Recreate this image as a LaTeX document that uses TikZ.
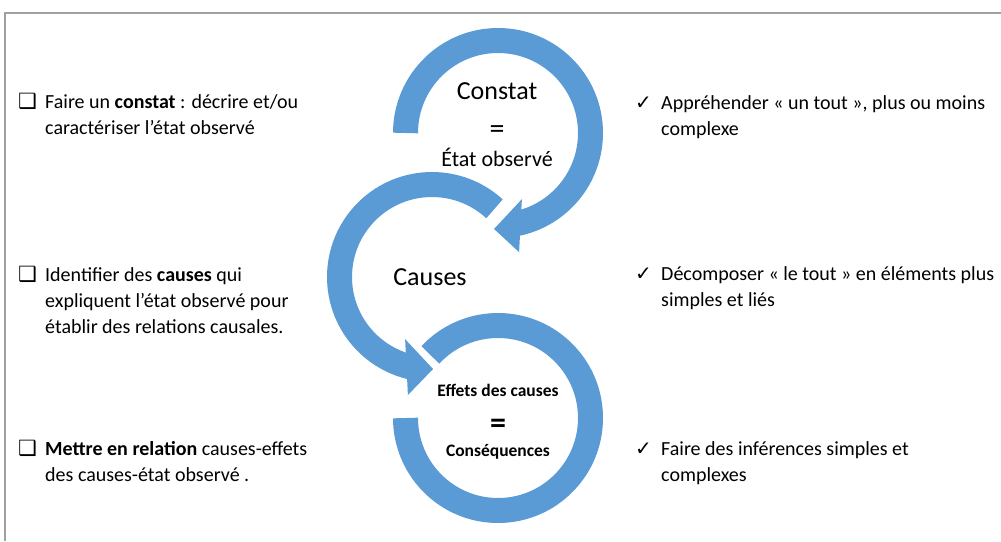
\documentclass[tikz,border=0pt]{standalone}
\usepackage{fontspec}
\setmainfont{Carlito}
\newfontfamily\symbfont{DejaVu Sans}
\usetikzlibrary{calc}
\definecolor{arcblue}{HTML}{5B9BD5}
\definecolor{framegray}{HTML}{A0A0A0}

\begin{document}
\begin{tikzpicture}[x=1pt,y=-1pt,
    band/.style={arcblue,line width=25pt},
    tip/.style={fill=arcblue},
    tipedge/.style={white,line width=2.5pt,line join=miter},
    item/.style={anchor=base west,inner sep=0pt,font=\fontsize{20}{26}\selectfont},
    bullet/.style={anchor=base west,inner sep=0pt}]
  \useasboundingbox (0,0) rectangle (1001,541);
  \draw[framegray,line width=2pt] (5,541)--(5,13)--(1001,13);

  % cercles
  \coordinate (c1) at (498,133);
  \coordinate (c2) at (432,277);
  \coordinate (c3) at (498,418);
  \draw[band] ($(c3)+(-137:92.5)$) arc[start angle=-137,end angle=180,radius=92.5];
  \draw[band] ($(c2)+(-47.5:92.5)$) arc[start angle=-47.5,end angle=-257,radius=92.5];
  \fill[tip] (405,337)--(435,369)--(408,397)--cycle;
  \draw[tipedge] (405,337)--(435,369)--(408,397);
  \draw[band] ($(c1)+(180:92.5)$) arc[start angle=180,end angle=439,radius=92.5];
  \fill[tip] (522,197)--(492,229)--(519,254)--cycle;
  \draw[tipedge] (522,197)--(492,229)--(519,254);

  \node[anchor=base,font=\fontsize{26}{30}\selectfont] (constat) at (497,99.5) {Constat};
  \node[font=\fontsize{30}{34}\selectfont] (egal1) at (497,132) {=};
  \node[anchor=base,font=\fontsize{22}{26}\selectfont] (etat) at (497,166.5) {État observé};
  \node[anchor=base,font=\fontsize{26}{30}\selectfont] (causes) at (430,285) {Causes};
  \node[anchor=base,font=\bfseries\fontsize{17.5}{20}\selectfont] (effets) at (498,396) {Effets des causes};
  \node[font=\bfseries\fontsize{32}{36}\selectfont] (egal2) at (498,426) {=};
  \node[anchor=base,font=\bfseries\fontsize{17.5}{20}\selectfont] (consq) at (498,456.5) {Conséquences};

  % colonne de gauche
  \node[item] (g1) at (45,108) {\begin{tabular}[t]{@{}l@{}}Faire un \textbf{constat} : décrire et/ou\\caractériser l’état observé\end{tabular}};
  \node[item] (g2) at (45,281) {\begin{tabular}[t]{@{}l@{}}Identifier des \textbf{causes} qui\\expliquent l’état observé pour\\établir des relations causales.\end{tabular}};
  \node[item] (g3) at (45,455) {\begin{tabular}[t]{@{}l@{}}\textbf{Mettre en relation} causes-effets\\des causes-état observé .\end{tabular}};
  \foreach \y/\n in {108/1,281/2,455/3}
    \node[bullet,font=\symbfont\fontsize{21}{24}\selectfont] (box\n) at (18,\y) {❑};

  % colonne de droite
  \node[item] (d1) at (661,109) {\begin{tabular}[t]{@{}l@{}}Appréhender « un tout », plus ou moins\\complexe\end{tabular}};
  \node[item] (d2) at (661,280) {\begin{tabular}[t]{@{}l@{}}Décomposer « le tout » en éléments plus\\simples et liés\end{tabular}};
  \node[item] (d3) at (661,455) {\begin{tabular}[t]{@{}l@{}}Faire des inférences simples et\\complexes\end{tabular}};
  \foreach \y/\n in {109/1,280/2,455/3}
    \node[bullet,font=\symbfont\fontsize{20}{24}\selectfont] (check\n) at (635,\y) {✓};
\end{tikzpicture}
\end{document}
